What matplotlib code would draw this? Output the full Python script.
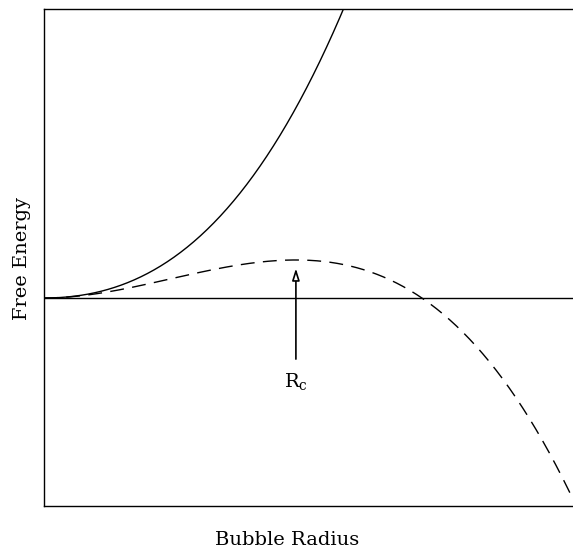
import matplotlib.pyplot as plt
import numpy as np

# Classical nucleation picture, radius in units of the critical radius R_c
r_max = 2.1
surface_coef = 3.0   # surface term ~ r^2
volume_coef = 2.0    # bulk term ~ r^3
arrow_tail = -1.68
arrow_tip = 0.85
r_crit = 1.0

r = np.linspace(0, r_max, 400)
g_stable = surface_coef * r**2 + volume_coef * r**3
g_super = surface_coef * r**2 - volume_coef * r**3

serif = ["DejaVu Serif", "Liberation Serif"]

fig = plt.figure(figsize=(5.73, 5.49), dpi=100)
ax = fig.add_axes([44 / 573, 43 / 549, 1 - 44 / 573, 497 / 549])

ax.plot(r, g_stable, color="black", lw=1.0)
ax.plot(r, g_super, color="black", lw=1.0, dashes=(10, 6))
ax.axhline(0, color="black", lw=1.0)

ax.annotate("", xy=(r_crit, arrow_tip), xytext=(r_crit, arrow_tail),
            arrowprops=dict(arrowstyle="-|>,head_length=0.7,head_width=0.22",
                            facecolor="white", edgecolor="black", lw=1.2))
ax.text(r_crit, -1.95, r"R$_\mathregular{c}$", ha="center", va="top",
        fontsize=14, family=serif)

ax.set_xlim(0, r_max)
ax.set_ylim(-5.47, 7.6)
ax.set_xticks([])
ax.set_yticks([])
ax.spines["right"].set_visible(False)
for s in ["left", "top", "bottom"]:
    ax.spines[s].set_linewidth(1.0)

fig.text(287 / 573, 1 - 540 / 549, "Bubble Radius", ha="center", va="center",
         fontsize=14, family=serif)
fig.text(22 / 573, 1 - 258 / 549, "Free Energy", ha="center", va="center",
         rotation=90, fontsize=14, family=serif)

fig.savefig("out.png", dpi=100)
